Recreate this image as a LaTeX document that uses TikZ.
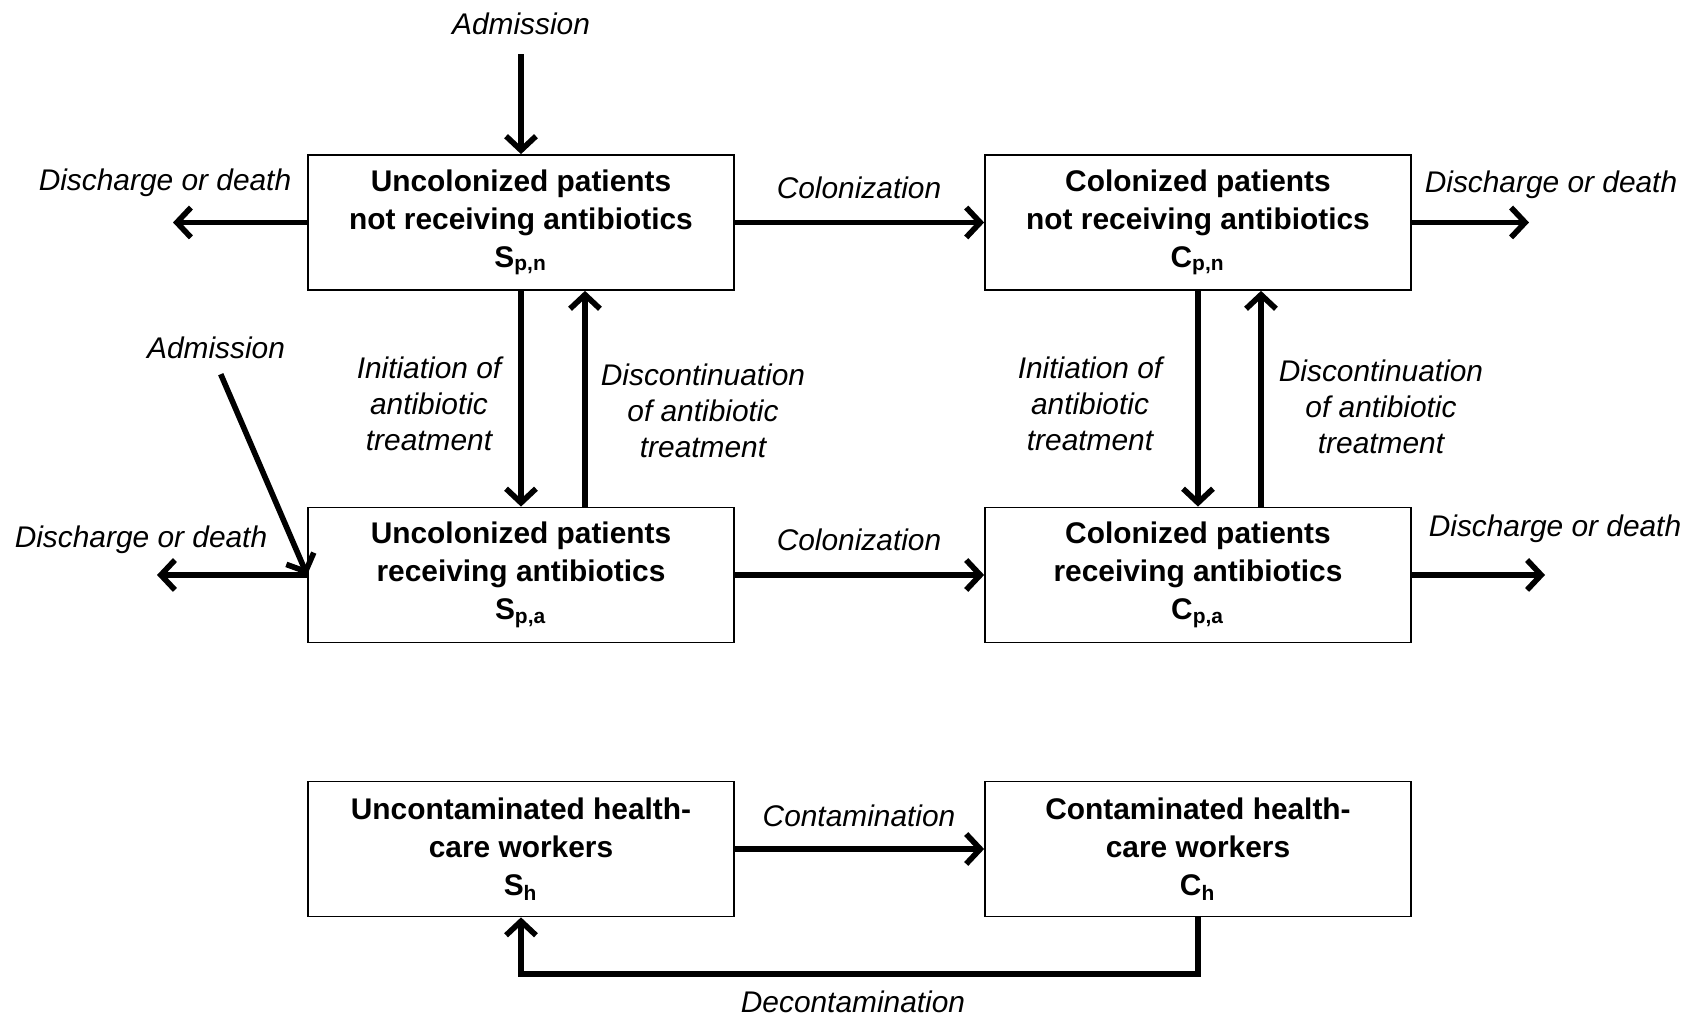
\documentclass[tikz,border=0pt]{standalone}
\usepackage{fontspec}
\setmainfont{Liberation Sans}
\usetikzlibrary{positioning, arrows.meta}

\begin{document}
\begin{tikzpicture}[
    box/.style={draw, line width=0.5pt, minimum width=4.26cm, minimum height=1.35cm, align=center, inner sep=0pt, font=\fontsize{8.5}{10.8}\selectfont\bfseries},
    lbl/.style={align=center, inner sep=1pt, font=\fontsize{8.5}{10.2}\selectfont\itshape},
    flow/.style={line width=1.6pt, -{Straight Barb[length=4pt, width=8.5pt]}}
  ]
        \useasboundingbox (0,0) rectangle (17,10.14);

        % Patients
        \node[box] (sn) at (5.21,7.915) {Uncolonized patients\\not receiving antibiotics\\S\textsubscript{p,n}};
        \node[box] (cn) at (11.98,7.915) {Colonized patients\\not receiving antibiotics\\C\textsubscript{p,n}};
        \node[box] (sa) at (5.21,4.39) {Uncolonized patients\\receiving antibiotics\\S\textsubscript{p,a}};
        \node[box] (ca) at (11.98,4.39) {Colonized patients\\receiving antibiotics\\C\textsubscript{p,a}};

        % Health-care workers
        \node[box] (sh) at (5.21,1.65) {Uncontaminated health-\\care workers\\S\textsubscript{h}};
        \node[box] (ch) at (11.98,1.65) {Contaminated health-\\care workers\\C\textsubscript{h}};

        % Labels
        \node[lbl] (adm1) at (5.21,9.90) {Admission};
        \node[lbl] (adm2) at (2.16,6.66) {Admission};
        \node[lbl] (dd1) at (1.65,8.31) {Discharge or death};
        \node[lbl] (dd2) at (15.51,8.29) {Discharge or death};
        \node[lbl] (dd3) at (1.41,4.74) {Discharge or death};
        \node[lbl] (dd4) at (15.55,4.85) {Discharge or death};
        \node[lbl] (col1) at (8.59,8.26) {Colonization};
        \node[lbl] (col2) at (8.59,4.74) {Colonization};
        \node[lbl] (ini1) at (4.29,6.10) {Initiation of\\antibiotic\\treatment};
        \node[lbl] (dis1) at (7.03,6.03) {Discontinuation\\of antibiotic\\treatment};
        \node[lbl] (ini2) at (10.90,6.10) {Initiation of\\antibiotic\\treatment};
        \node[lbl] (dis2) at (13.81,6.07) {Discontinuation\\of antibiotic\\treatment};
        \node[lbl] (cont) at (8.59,1.98) {Contamination};
        \node[lbl] (dcont) at (8.53,0.12) {Decontamination};

        % Free ends
        \coordinate (out1) at (1.73,7.915);
        \coordinate (out2) at (15.29,7.915);
        \coordinate (out3) at (1.57,4.39);
        \coordinate (out4) at (15.45,4.39);
        \coordinate (low) at (8.55,0.40);

        % Arrows
        \draw[flow, shorten <=0.15cm] (adm1) -- (sn);
        \draw[flow, shorten <=0.12cm] (adm2.south) -- (sa.west);
        \draw[flow] (sn) -- (out1);
        \draw[flow] (cn) -- (out2);
        \draw[flow] (sa) -- (out3);
        \draw[flow] (ca) -- (out4);
        \draw[flow] (sn) -- (cn);
        \draw[flow] (sa) -- (ca);
        \draw[flow] (sn) -- (sa);
        \draw[flow] ([xshift=0.64cm]sa.north) -- ([xshift=0.64cm]sn.south);
        \draw[flow] (cn) -- (ca);
        \draw[flow] ([xshift=0.63cm]ca.north) -- ([xshift=0.63cm]cn.south);
        \draw[flow] (sh) -- (ch);
        \draw[flow] (ch.south) |- (low) -| (sh.south);
      \end{tikzpicture}
\end{document}
